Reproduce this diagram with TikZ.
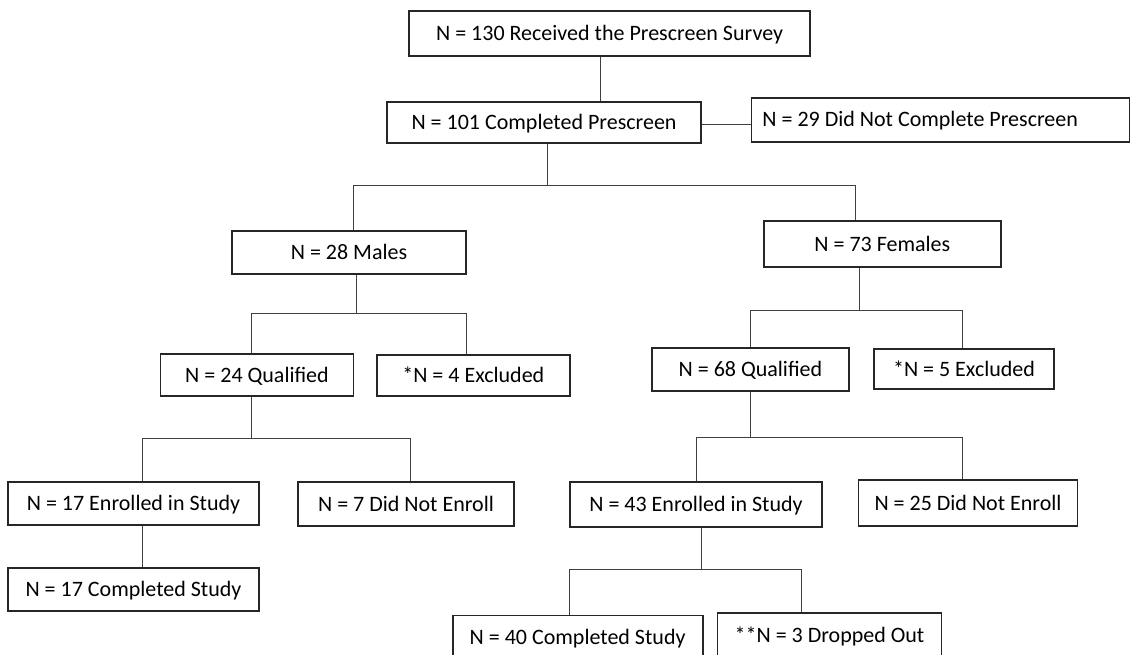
\documentclass[tikz,border=0pt]{standalone}
\usepackage{fontspec}
\setmainfont{Carlito}

\begin{document}
\begin{tikzpicture}[
  x=1pt, y=-1pt,
  box/.style={draw=black!85,line width=1.8pt,inner sep=0pt,minimum width=#1,
              minimum height=43pt,text height=15pt,text depth=1pt,
              font=\fontsize{22}{26}\selectfont},
  link/.style={draw=black!75,line width=0.9pt}
]
\useasboundingbox (0,0) rectangle (1131,655);
\clip (0,0) rectangle (1131,655);

\node[box=401pt,minimum height=45pt] (survey) at (609.5,33.5) {N = 130 Received the Prescreen Survey};
\node[box=314pt,minimum height=41pt] (prescr) at (544,122.5) {N = 101 Completed Prescreen};
\node[box=378pt,minimum height=44pt,anchor=west,align=flush left,text width=356pt,inner xsep=11pt]
     (noprescr) at (750.5,120) {N = 29 Did Not Complete Prescreen};

\node[box=234pt]                   (males)   at (349,252.5)   {N = 28 Males};
\node[box=236.6pt,minimum height=46pt] (females) at (882.3,244) {N = 73 Females};

\node[box=193pt,minimum height=42pt] (qualm) at (257,375)     {N = 24 Qualified};
\node[box=193pt,minimum height=41pt] (exclm) at (473.3,375.5) {*N = 4 Excluded};
\node[box=197pt]                     (qualf) at (750.4,369.5) {N = 68 Qualified};
\node[box=180pt,minimum height=40pt] (exclf) at (964,369)     {*N = 5 Excluded};

\node[box=251pt]                       (enrm)    at (133.5,503.5) {N = 17 Enrolled in Study};
\node[box=216pt,minimum height=44pt]   (notenrm) at (406,504)     {N = 7 Did Not Enroll};
\node[box=251pt]                       (compm)   at (133.5,589.5) {N = 17 Completed Study};
\node[box=252.5pt,minimum height=45pt] (enrf)    at (696,504.5)   {N = 43 Enrolled in Study};
\node[box=219pt,minimum height=46pt]   (notenrf) at (968,503)     {N = 25 Did Not Enroll};
\node[box=250pt,minimum height=44pt]   (compf)   at (577.6,637.5) {N = 40 Completed Study};
\node[box=224pt,minimum height=44pt]   (dropf)   at (829.5,635)   {**N = 3 Dropped Out};

% survey and prescreen
\coordinate (s1) at (600,80);
\coordinate (s2) at (725,124);
\draw[link] (s1 |- survey.south) -- (s1 |- prescr.north);
\draw[link] (prescr.east |- s2) -- (noprescr.west |- s2);

% split by sex
\coordinate (j1) at (547.4,185);
\coordinate (b1l) at (353.6,185);
\coordinate (b1r) at (855.7,185);
\draw[link] (j1 |- prescr.south) -- (j1);
\draw[link] (b1l) -- (b1r);
\draw[link] (b1l) -- (b1l |- males.north);
\draw[link] (b1r) -- (b1r |- females.north);

% males
\coordinate (j2) at (356.4,313);
\coordinate (b2l) at (251.8,313);
\coordinate (b2r) at (466.4,313);
\draw[link] (j2 |- males.south) -- (j2);
\draw[link] (b2l) -- (b2r);
\draw[link] (b2l) -- (b2l |- qualm.north);
\draw[link] (b2r) -- (b2r |- exclm.north);

\coordinate (j4) at (251.8,438);
\coordinate (b4l) at (142.9,438);
\coordinate (b4r) at (410.7,438);
\draw[link] (j4 |- qualm.south) -- (j4);
\draw[link] (b4l) -- (b4r);
\draw[link] (b4l) -- (b4l |- enrm.north);
\draw[link] (b4r) -- (b4r |- notenrm.north);

\coordinate (s3) at (142.9,545);
\draw[link] (s3 |- enrm.south) -- (s3 |- compm.north);

% females
\coordinate (j3) at (859.3,310);
\coordinate (b3l) at (750,310);
\coordinate (b3r) at (962.4,310);
\draw[link] (j3 |- females.south) -- (j3);
\draw[link] (b3l) -- (b3r);
\draw[link] (b3l) -- (b3l |- qualf.north);
\draw[link] (b3r) -- (b3r |- exclf.north);

\coordinate (j5) at (750.7,437);
\coordinate (b5l) at (696.5,437);
\coordinate (b5r) at (962,437);
\draw[link] (j5 |- qualf.south) -- (j5);
\draw[link] (b5l) -- (b5r);
\draw[link] (b5l) -- (b5l |- enrf.north);
\draw[link] (b5r) -- (b5r |- notenrf.north);

\coordinate (j6) at (701.3,569);
\coordinate (b6l) at (569.6,569);
\coordinate (b6r) at (801.4,569);
\draw[link] (j6 |- enrf.south) -- (j6);
\draw[link] (b6l) -- (b6r);
\draw[link] (b6l) -- (b6l |- compf.north);
\draw[link] (b6r) -- (b6r |- dropf.north);
\end{tikzpicture}
\end{document}
